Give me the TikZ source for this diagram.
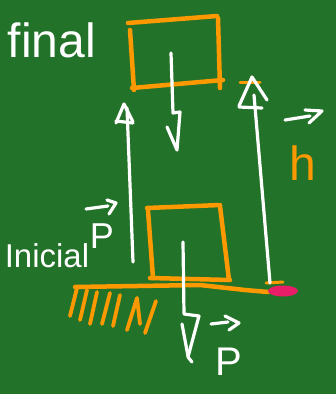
\documentclass[tikz,border=0pt]{standalone}
\usepackage{fontspec}
\setmainfont{Liberation Sans}
\usetikzlibrary{arrows.meta}
\definecolor{board}{RGB}{35,114,41}
\definecolor{chalkorange}{RGB}{252,152,0}
\definecolor{blob}{RGB}{232,30,104}
\tikzset{
  wline/.style={draw=white,line width=3.2pt,line cap=round,line join=round},
  oline/.style={draw=chalkorange,line width=4.5pt,line cap=round,line join=round},
  hatch/.style={draw=chalkorange,line width=3.8pt,line cap=round,line join=round},
  lbl/.style={text=white,inner sep=0pt},
}
\begin{document}
\begin{tikzpicture}[x=1pt,y=-1pt]
\fill[board] (0,0) rectangle (336,394);
\useasboundingbox (0,0) rectangle (336,394);
% top box (final)
\draw[oline] (128,23) -- (217,16);
\draw[oline] (130,30) -- (134,90);
\draw[oline] (218,18) -- (220,88);
\draw[oline] (132,88) -- (223,80);
% bottom box (inicial)
\draw[oline] (147,208) -- (220,205);
\draw[oline] (148,210) -- (153,278);
\draw[oline] (220,206) -- (229,280);
\draw[oline] (150,278) -- (230,280);
% ground
\draw[oline] (75,287) -- (200,285) -- (245,290) -- (268,292);
\draw[hatch] (70,316) -- (77,288);
\draw[hatch] (80,320) -- (87,290);
\draw[hatch] (90,324) -- (97,292);
\draw[hatch] (102,324) -- (110,293);
\draw[hatch] (113,326) -- (120,295);
\draw[hatch] (127,330) -- (137,298) -- (140,324);
\draw[hatch] (145,333) -- (156,301);
\fill[blob] (283,291) ellipse (15 and 5.5);
% top weight arrow
\draw[wline] (171,53) -- (173,113) -- (180,112) -- (177,150) -- (167,127);
% bottom weight arrow
\draw[wline] (183,242) -- (184,314) -- (199,316) -- (188,357) -- (192,362);
\draw[wline] (182,324) -- (188,356);
% left up arrow
\draw[wline] (133,262) -- (127,108);
\draw[wline] (116,123) -- (124,104) -- (133,122);
\draw[wline] (116,121) -- (133,123);
% right up arrow
\draw[draw=chalkorange,line width=3pt,line cap=round] (240,82) -- (260,82);
\draw[draw=chalkorange,line width=3pt,line cap=round] (266,283) -- (283,282);
\draw[wline] (270,283) -- (254,95);
\draw[wline] (239,106) -- (252,77) -- (267,100);
\draw[wline] (239,107) -- (262,108);
% labels
\node[lbl,font=\fontsize{48}{48}\selectfont] (fin) at (52,40) {final};
\node[lbl,font=\fontsize{33}{33}\selectfont] (ini) at (47,256) {Inicial};
\node[lbl,font=\fontsize{36}{36}\selectfont] (p1) at (102,236) {P};
\draw[wline] (86,209) -- (108,206);
\draw[wline] (107,200) -- (116,203) -- (109,214);
\node[lbl,font=\fontsize{40}{40}\selectfont] (p2) at (229,362) {P};
\draw[wline] (211,324) -- (228,322);
\draw[wline] (225,316) -- (239,323) -- (229,330);
\node[inner sep=0pt,text=chalkorange,font=\fontsize{48}{48}\selectfont] (h) at (303,163) {h};
\draw[wline] (285,120) -- (310,116);
\draw[wline] (305,110) -- (322,111) -- (309,123);
\end{tikzpicture}
\end{document}
